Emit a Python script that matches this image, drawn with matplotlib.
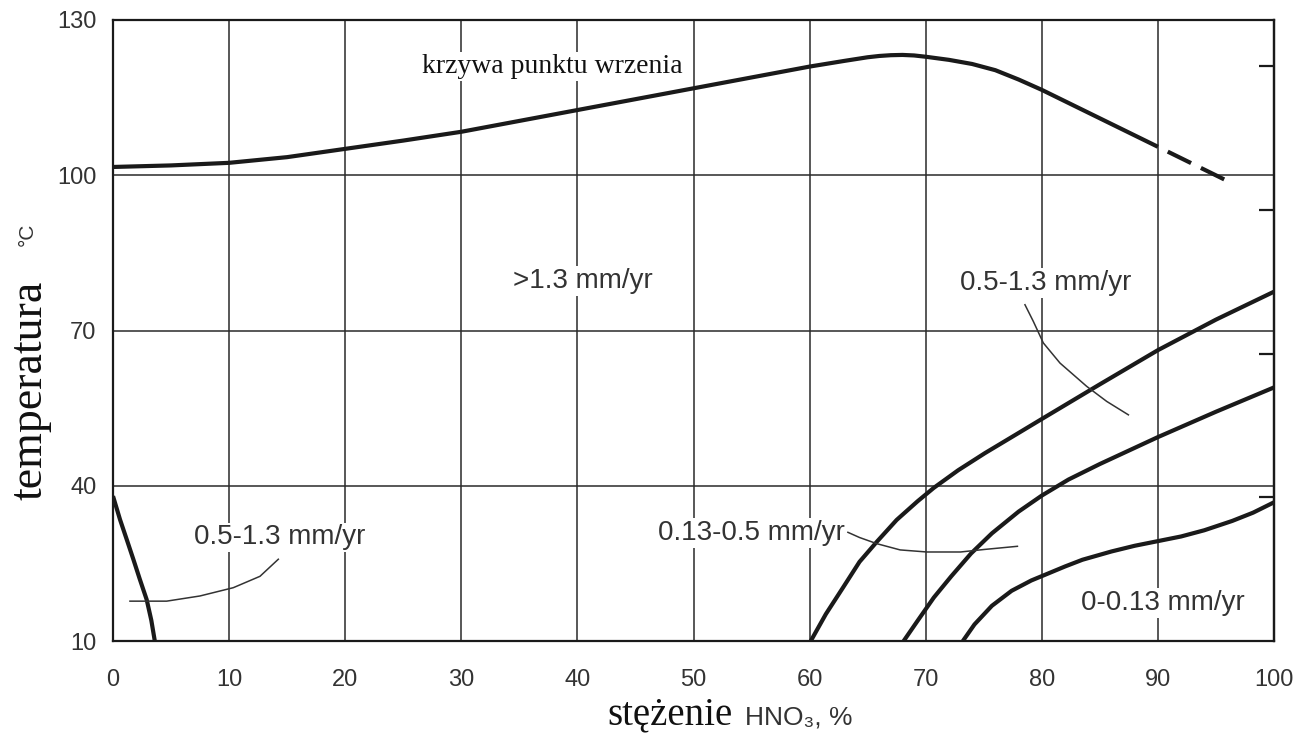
import matplotlib
matplotlib.use("Agg")
import matplotlib.pyplot as plt
import matplotlib.transforms as mtransforms

# ---------------- data ----------------
x_ticks = [0, 10, 20, 30, 40, 50, 60, 70, 80, 90, 100]
y_ticks = [10, 40, 70, 100, 130]
fahrenheit_ticks = [100, 150, 200, 250]

# boiling-point curve (solid part) and its dashed continuation
boil_x = [0, 5, 10, 15, 20, 25, 30, 35, 40, 45, 50, 55, 60, 63, 65, 66, 67, 68, 69, 70, 72, 74, 76, 78, 80, 83, 85, 88, 90]
boil_y = [101.6, 101.9, 102.4, 103.5, 105.1, 106.7, 108.4, 110.5, 112.6, 114.7, 116.8, 118.9, 121.0, 122.1, 122.8, 123.05, 123.2, 123.25, 123.15, 122.9, 122.3, 121.5, 120.3, 118.5, 116.5, 113.2, 111.0, 107.7, 105.5]
boil_dash_x = [90, 95.8]
boil_dash_y = [105.5, 99.1]

# iso-corrosion curves
left_x = [0, 0.6, 1.2, 1.75, 2.3, 2.9, 3.3, 3.6]
left_y = [38, 33.5, 29.5, 25.8, 22, 18, 14, 10]

curveA_x = [60.1, 61.4, 62.9, 64.3, 65.8, 67.5, 69.3, 70.7, 72.8, 75.1, 78.0, 80.0, 85.0, 90.0, 95.0, 100.0]
curveA_y = [10, 15.2, 20.4, 25.3, 29.2, 33.4, 37.0, 39.6, 43.0, 46.3, 50.2, 52.9, 59.6, 66.2, 72.1, 77.5]

curveB_x = [68.1, 69.3, 70.7, 72.2, 73.9, 75.7, 78.0, 80.0, 82.3, 85.0, 87.5, 90.0, 95.0, 100.0]
curveB_y = [10, 13.9, 18.4, 22.5, 26.9, 30.8, 35.0, 38.1, 41.2, 44.2, 46.8, 49.4, 54.3, 59.0]

curveC_x = [73.2, 74.2, 75.7, 77.4, 79.1, 80.5, 82.0, 83.5, 86.0, 88.0, 90.0, 92.0, 94.0, 96.4, 98.2, 100.0]
curveC_y = [10, 13.2, 16.8, 19.7, 21.7, 23.0, 24.4, 25.7, 27.3, 28.4, 29.3, 30.2, 31.4, 33.2, 34.8, 36.8]

# leader lines
leadL_x = [1.46, 4.62, 7.49, 10.36, 12.66, 14.24]
leadL_y = [17.7, 17.7, 18.7, 20.3, 22.5, 25.8]
leadR_x = [78.55, 79.27, 80.13, 81.57, 83.87, 85.59, 87.46]
leadR_y = [74.98, 71.76, 67.6, 63.7, 59.2, 56.3, 53.7]
leadM_x = [63.3, 64.3, 65.8, 67.8, 70.1, 73.0, 75.1, 77.9]
leadM_y = [31.0, 30.0, 28.8, 27.6, 27.2, 27.2, 27.7, 28.3]

# labels: (text, x, y)
zone_labels = [
    (">1.3 mm/yr", 40.5, 79.5),
    ("0.5-1.3 mm/yr", 80.3, 79.2),
    ("0.5-1.3 mm/yr", 14.4, 30.0),
    ("0.13-0.5 mm/yr", 55.0, 30.9),
    ("0-0.13 mm/yr", 90.4, 17.3),
]
boil_label = ("krzywa punktu wrzenia", 37.8, 121.0)

# ---------------- figure ----------------
plt.rcParams['lines.scale_dashes'] = False
W, H = 1295, 734
fig = plt.figure(figsize=(W / 100, H / 100), dpi=100)
ax = fig.add_axes([113 / W, 1 - 641 / H, (1274 - 113) / W, (641 - 20) / H])

ink = '#1a1a1a'
serif = ['Liberation Serif', 'DejaVu Serif']
narrow = ['Liberation Sans Narrow', 'Liberation Sans', 'DejaVu Sans']
sans = ['Liberation Sans', 'DejaVu Sans']

ax.set_xlim(0, 100)
ax.set_ylim(10, 130)
ax.set_xticks(x_ticks)
ax.set_yticks(y_ticks)
ax.grid(True, color='#2a2a2a', linewidth=1.1)
ax.set_axisbelow(True)
for s in ax.spines.values():
    s.set_linewidth(1.6)
    s.set_color(ink)
ax.tick_params(axis='both', length=0, labelsize=17, colors='#333333')
ax.tick_params(axis='x', pad=20)
ax.tick_params(axis='y', pad=12)
for lab in ax.get_xticklabels() + ax.get_yticklabels():
    lab.set_family(narrow)

# Fahrenheit ticks on the right (inward, unlabeled)
sec = ax.secondary_yaxis('right', functions=(lambda c: c * 9 / 5 + 32, lambda f: (f - 32) * 5 / 9))
sec.set_yticks(fahrenheit_ticks)
sec.tick_params(direction='in', length=11, width=1.6, colors=ink, labelright=False)
sec.spines['right'].set_linewidth(1.6)
sec.spines['right'].set_color(ink)

lw = 3.0
ax.plot(boil_x, boil_y, color=ink, lw=lw, solid_capstyle='butt', solid_joinstyle='round', zorder=4)
ax.plot(boil_dash_x, boil_dash_y, color=ink, lw=lw, linestyle=(18.7, (18.7, 7.9)), zorder=4)
for cx, cy in [(left_x, left_y), (curveA_x, curveA_y), (curveB_x, curveB_y), (curveC_x, curveC_y)]:
    ax.plot(cx, cy, color=ink, lw=lw, zorder=4, solid_capstyle='butt', solid_joinstyle='round')
for lx, ly in [(leadL_x, leadL_y), (leadR_x, leadR_y), (leadM_x, leadM_y)]:
    ax.plot(lx, ly, color='#333333', lw=1.1, zorder=4, solid_joinstyle='round')

for txt, tx, ty in zone_labels:
    ax.text(tx, ty, txt, ha='center', va='center', fontsize=20, family=sans, color='#333333',
            bbox=dict(facecolor='white', edgecolor='none', pad=1.5), zorder=3)
ax.text(boil_label[1], boil_label[2], boil_label[0], ha='center', va='center', fontsize=20,
        family=serif, color='#111111', bbox=dict(facecolor='white', edgecolor='none', pad=1.5), zorder=3)

# axis titles (mixed fonts)
tx = mtransforms.blended_transform_factory(ax.transData, ax.transAxes)
ax.text(53.4, -0.135, "stężenie", transform=tx, ha='right', va='baseline', fontsize=28,
        family=serif, color='#111111')
ax.text(54.4, -0.135, "HNO₃, %", transform=tx, ha='left', va='baseline', fontsize=19,
        family=narrow, color='#333333')

ty = mtransforms.blended_transform_factory(ax.transAxes, ax.transData)
ax.text(-0.071, 58.4, "temperatura", transform=ty, ha='center', va='center', rotation=90,
        fontsize=33, family=serif, color='#111111')
ax.text(-0.074, 88.5, "°C", transform=ty, ha='center', va='center', rotation=90,
        fontsize=15, family=sans, color='#333333')

fig.savefig("out.png", dpi=100, facecolor='white')
